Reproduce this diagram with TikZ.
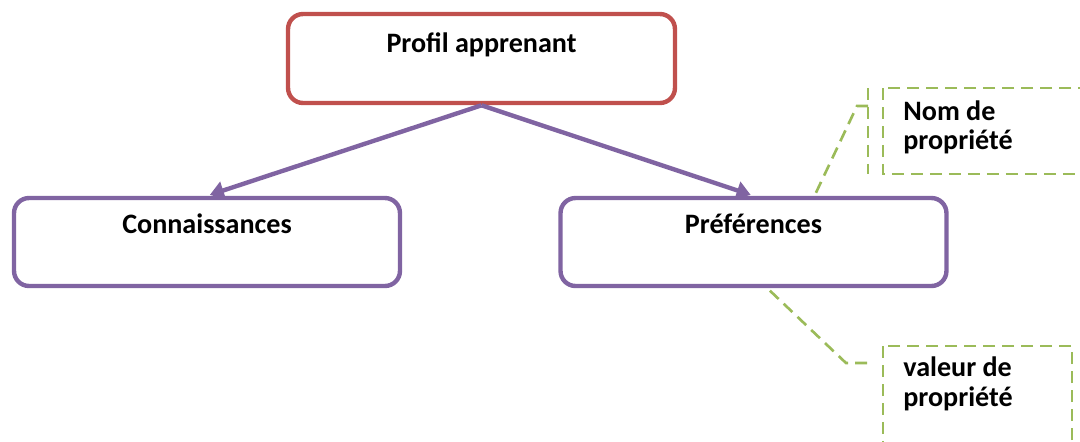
\documentclass[tikz,border=0pt]{standalone}
\usepackage{fontspec}
\setmainfont{Carlito}
\usetikzlibrary{arrows.meta}
\definecolor{boxred}{HTML}{C0504D}
\definecolor{boxpurple}{HTML}{8064A2}
\definecolor{calloutgreen}{HTML}{9BBB59}
\begin{document}
\begin{tikzpicture}[x=0.02cm,y=-0.02cm,
  boxbase/.style={rectangle,rounded corners=0.3cm,line width=2.5pt,fill=white,inner sep=0pt},
  topbox/.style={boxbase,draw=boxred,minimum width=7.74cm,minimum height=1.78cm},
  subbox/.style={boxbase,draw=boxpurple,minimum width=7.72cm,minimum height=1.76cm},
  boxtext/.style={font=\bfseries\fontsize{16}{18}\selectfont,inner sep=0pt,anchor=base},
  callout/.style={draw=calloutgreen,line width=1.5pt,dash pattern=on 0.24cm off 0.14cm},
  calltext/.style={font=\bfseries\fontsize{16}{17}\selectfont,align=left,anchor=base west,inner sep=0pt},
  link/.style={draw=boxpurple,line width=2.5pt,-{Triangle[length=0.28cm,width=0.36cm]},shorten >=0.06cm}
]
\useasboundingbox (0,0) rectangle (1080,441);
\clip (0,0) rectangle (1080,441);

% main boxes
\node[topbox] (profil) at (481.5,58.5) {};
\node[boxtext] (profilT) at (481.5,52) {Profil apprenant};
\node[subbox] (conn) at (207,242) {};
\node[boxtext] (connT) at (207,233) {Connaissances};
\node[subbox] (pref) at (753.5,242) {};
\node[boxtext] (prefT) at (753.5,233) {Préférences};

% links
\draw[link] (profil.south) ++(0,0.12) coordinate (src) (src) -- (conn.north);
\draw[link] (src) -- (pref.north);

% callout: property name
\draw[callout] (883,88) rectangle (1100,174);
\draw[callout] (868,88) coordinate (nomBarTop) -- (868,174) coordinate (nomBarBot);
\node[calltext] (nomT1) at (903,120) {Nom de};
\node[calltext] (nomT2) at (903,149) {propriété};
\coordinate (nomA) at (868,106);
\coordinate (nomB) at (857,106);
\coordinate (nomC) at (813,199);
\draw[callout] (nomA) -- (nomB) -- (nomC);

% callout: property value
\draw[callout] (883,346) rectangle (1072,460);
\node[calltext] (valT1) at (903,376) {valeur de};
\node[calltext] (valT2) at (903,406) {propriété};
\coordinate (valA) at (867,363);
\coordinate (valB) at (846,363);
\coordinate (valC) at (765,286);
\draw[callout] (valA) -- (valB) -- (valC);
\end{tikzpicture}
\end{document}
